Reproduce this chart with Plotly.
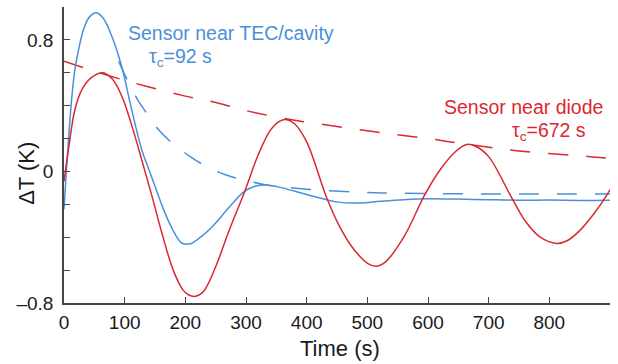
import plotly.graph_objects as go

# ---- data ----
tec_t = [0, 3, 6, 12.6, 18, 24, 32, 42, 54, 65, 78, 95, 110, 128, 140, 150, 165, 180, 194, 208,
         225, 246, 274, 298, 315, 334, 360, 400, 449, 488, 521, 560, 600, 650, 700, 750, 800, 850, 900]
tec_y = [-0.23, -0.05, 0.12, 0.44, 0.62, 0.74, 0.86, 0.94, 0.965, 0.93, 0.83, 0.64, 0.40, 0.134, 0.01,
         -0.09, -0.24, -0.36, -0.435, -0.44, -0.40, -0.33, -0.21, -0.12, -0.09, -0.082, -0.10, -0.14,
         -0.185, -0.192, -0.182, -0.172, -0.166, -0.168, -0.172, -0.175, -0.174, -0.176, -0.175]

diode_t = [0, 8, 18, 30, 45, 64, 80, 95, 110, 128, 145, 161, 180, 196, 205, 216, 230, 250, 270, 298,
           320, 340, 355, 366, 380, 400, 433, 455, 477, 501, 515, 530, 560, 595, 620, 645, 664, 680,
           700, 738, 760, 785, 812, 830, 850, 875, 896, 900]
diode_y = [-0.06, 0.15, 0.377, 0.50, 0.57, 0.60, 0.56, 0.46, 0.30, 0.073, -0.15, -0.37, -0.60, -0.72,
           -0.75, -0.76, -0.73, -0.58, -0.38, -0.12, 0.10, 0.25, 0.305, 0.316, 0.29, 0.18, -0.16, -0.34,
           -0.47, -0.56, -0.576, -0.55, -0.40, -0.14, 0.01, 0.12, 0.164, 0.15, 0.09, -0.16, -0.30, -0.40,
           -0.438, -0.42, -0.36, -0.25, -0.136, -0.11]

tec_fit_t = [90, 100, 120, 137, 150, 170, 183, 208, 235, 265, 295, 334, 400, 488, 560, 650, 750, 900]
tec_fit_y = [0.67, 0.59, 0.445, 0.35, 0.28, 0.20, 0.16, 0.09, 0.03, -0.019, -0.05, -0.082, -0.108,
             -0.127, -0.133, -0.136, -0.137, -0.137]

diode_fit_t = [0, 100, 200, 252, 300, 366, 400, 515, 600, 664, 750, 867, 900]
diode_fit_y = [0.67, 0.554, 0.458, 0.418, 0.37, 0.32, 0.30, 0.24, 0.20, 0.165, 0.125, 0.09, 0.08]

x_ticks = [0, 100, 200, 300, 400, 500, 600, 700, 800, 900]
x_ticklabels = ["0", "100", "200", "300", "400", "500", "600", "700", "800", " "]
y_ticks = [-0.8, -0.6, -0.4, -0.2, 0, 0.2, 0.4, 0.6, 0.8, 1.0]
y_ticklabels = ["–0.8", " ", " ", " ", "0", " ", " ", " ", "0.8", " "]

BLUE = "#4a90d9"
RED = "#d92830"
FONT = "Liberation Sans, Arial, sans-serif"

fig = go.Figure()
fig.add_trace(go.Scatter(x=tec_fit_t, y=tec_fit_y, mode="lines", line=dict(color=BLUE, width=1.5, dash="20px,18px", shape="spline")))
fig.add_trace(go.Scatter(x=diode_fit_t, y=diode_fit_y, mode="lines", line=dict(color=RED, width=1.5, dash="20px,18px", shape="spline")))
fig.add_trace(go.Scatter(x=tec_t, y=tec_y, mode="lines", line=dict(color=BLUE, width=1.5, shape="spline")))
fig.add_trace(go.Scatter(x=diode_t, y=diode_y, mode="lines", line=dict(color=RED, width=1.5, shape="spline")))

fig.update_layout(
    width=618, height=364,
    margin=dict(l=64, r=8, t=7, b=61),
    paper_bgcolor="white", plot_bgcolor="white",
    showlegend=False,
    font=dict(family=FONT, size=19, color="#1a1a1a"),
)
fig.update_xaxes(
    range=[0, 900], tickvals=x_ticks, ticktext=x_ticklabels, automargin=False,
    showgrid=False, zeroline=False, showline=True, linecolor="#444", linewidth=1.5,
    ticks="inside", ticklen=6, tickwidth=1.2, tickcolor="#444",
    ticklabelstandoff=1,
)
fig.update_yaxes(
    range=[-0.8, 1.0], tickvals=y_ticks, ticktext=y_ticklabels, automargin=False,
    showgrid=False, zeroline=False, showline=True, linecolor="#444", linewidth=1.5,
    ticks="inside", ticklen=6, tickwidth=1.2, tickcolor="#444",
    ticklabelstandoff=5,
)

# axis titles
fig.add_annotation(text="Time (s)", x=0.5055, y=-0.153, xref="paper", yref="paper",
                   xanchor="center", yanchor="middle", showarrow=False,
                   font=dict(family=FONT, size=22, color="#1a1a1a"))
fig.add_annotation(text="ΔT (K)", x=-0.07, y=0.439, xref="paper", yref="paper", textangle=-90,
                   xanchor="center", yanchor="middle", showarrow=False,
                   font=dict(family=FONT, size=22, color="#1a1a1a"))

ann = [
    dict(text="Sensor near TEC/cavity", x=0.1136, y=0.912, color=BLUE),
    dict(text="τ<sub>c</sub>=92 s", x=0.152, y=0.83, color=BLUE),
    dict(text="Sensor near diode", x=0.692, y=0.662, color=RED),
    dict(text="τ<sub>c</sub>=672 s", x=0.817, y=0.578, color=RED),
]
for a in ann:
    fig.add_annotation(text=a["text"], x=a["x"], y=a["y"], xref="paper", yref="paper",
                       xanchor="left", yanchor="middle", showarrow=False,
                       font=dict(family=FONT, size=19.5, color=a["color"]))

fig.write_html("out.html", config={"displayModeBar": False},
               post_script="document.body.style.margin='0';document.body.style.padding='0';")
